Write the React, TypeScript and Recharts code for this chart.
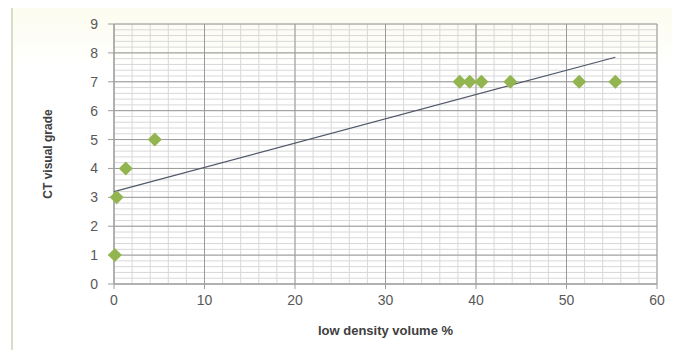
import {
  ScatterChart,
  Scatter,
  XAxis,
  YAxis,
  ReferenceLine,
  Label,
} from "recharts";

const lowDensity = [0.1, 0.3, 1.3, 4.5, 38.2, 39.3, 40.6, 43.8, 51.4, 55.4];
const ctGrade = [1, 3, 4, 5, 7, 7, 7, 7, 7, 7];

// linear trendline ends, as drawn
const trendX = [0, 55.4];
const trendY = [3.2, 7.85];

const xTicks = [0, 10, 20, 30, 40, 50, 60];
const yTicks = [0, 1, 2, 3, 4, 5, 6, 7, 8, 9];

const points = lowDensity.map((x, i) => ({ x, y: ctGrade[i] }));
const trend = trendX.map((x, i) => ({ x, y: trendY[i] }));

// minor gridlines: every 2 on x, every 0.2 on y
const minorX = Array.from({ length: 31 }, (_, i) => i * 2);
const minorY = Array.from({ length: 46 }, (_, i) => Math.round(i * 2) / 10);

const font = "'Liberation Sans', Arial, sans-serif";

function Diamond(props: any) {
  const { cx, cy } = props;
  const r = 7;
  return (
    <polygon
      points={`${cx},${cy - r} ${cx + r},${cy} ${cx},${cy + r} ${cx - r},${cy}`}
      fill="#93b54f"
    />
  );
}

export default function App() {
  return (
    <div
      style={{
        margin: -8,
        width: 680,
        height: 358,
        position: "relative",
        overflow: "hidden",
        background: "#fff",
      }}
    >
      <div
        style={{
          position: "absolute",
          left: 11,
          top: 5,
          width: 700,
          height: 400,
          borderTop: "2px solid #d8d8c2",
          borderLeft: "2px solid #dcdcc6",
          background: "linear-gradient(to bottom, #fcfcef 0px, #ffffff 60px)",
        }}
      />
      <div
        style={{
          position: "absolute",
          left: 0,
          width: 645,
          top: -1,
          textAlign: "center",
          fontFamily: font,
          fontSize: 6,
          lineHeight: "6px",
          color: "#9a9a9a",
        }}
      >
        CT visual score
      </div>
      <div style={{ position: "absolute", left: 0, top: 0 }}>
        <ScatterChart
          width={680}
          height={358}
          margin={{ top: 24, right: 23, bottom: 14, left: 20 }}
        >
          <XAxis
            type="number"
            dataKey="x"
            domain={[0, 60]}
            ticks={xTicks}
            height={60}
            tickSize={5}
            tickMargin={6}
            stroke="#9e9e9e"
            tick={{ fill: "#595959", fontSize: 14, fontFamily: font }}
          >
            <Label
              value="low density volume %"
              position="insideBottom"
              offset={9}
              style={{
                fill: "#404040",
                fontSize: 13,
                fontWeight: "bold",
                fontFamily: font,
              }}
            />
          </XAxis>
          <YAxis
            type="number"
            dataKey="y"
            domain={[0, 9]}
            ticks={yTicks}
            width={94}
            tickSize={6}
            tickMargin={10}
            stroke="#9e9e9e"
            tick={{ fill: "#595959", fontSize: 14, fontFamily: font }}
          >
            <Label
              value="CT visual grade"
              angle={-90}
              position="center"
              dx={-19}
              style={{
                fill: "#404040",
                fontSize: 12,
                fontWeight: "bold",
                fontFamily: font,
              }}
            />
          </YAxis>
          {minorX.map((v) => (
            <ReferenceLine key={"mx" + v} x={v} stroke="#d8d8d8" />
          ))}
          {minorY.map((v) => (
            <ReferenceLine key={"my" + v} y={v} stroke="#d8d8d8" />
          ))}
          {xTicks.map((v) => (
            <ReferenceLine key={"x" + v} x={v} stroke="#9a9a9a" />
          ))}
          {yTicks.map((v) => (
            <ReferenceLine key={"y" + v} y={v} stroke="#9a9a9a" />
          ))}
          <Scatter
            data={trend}
            line={{ stroke: "#50586a", strokeWidth: 1.2 }}
            shape={() => <g />}
            isAnimationActive={false}
          />
          <Scatter data={points} shape={Diamond} isAnimationActive={false} />
        </ScatterChart>
      </div>
    </div>
  );
}
